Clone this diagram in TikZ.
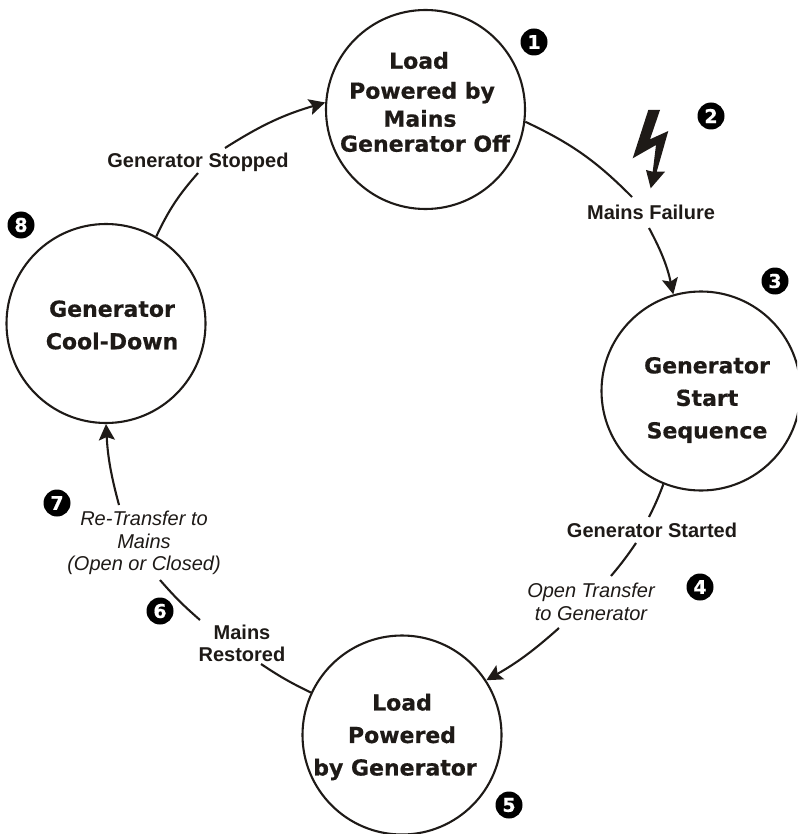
\documentclass[tikz,border=0pt]{standalone}
\usepackage{fontspec}
\setmainfont{Liberation Sans}
\newfontfamily\headfont[BoldFeatures={FakeBold=0.6}]{DejaVu Sans}
\usetikzlibrary{arrows.meta}
\definecolor{ink}{HTML}{1E1A17}
\tikzset{
  x=1pt,y=-1pt,
  state/.style={circle,draw=ink,line width=2.1pt,minimum size=199pt,inner sep=0pt},
  statetext/.style={align=center,text=ink,font=\headfont\bfseries\fontsize{22}{32.5}\selectfont,inner sep=0pt},
  evlabel/.style={align=center,text=ink,font=\bfseries\fontsize{20}{22}\selectfont,inner sep=0pt},
  itlabel/.style={align=center,text=ink,font=\itshape\fontsize{20}{22.5}\selectfont,inner sep=0pt},
  badge/.style={circle,fill=black,text=white,minimum size=27pt,inner sep=0pt,font=\headfont\bfseries\fontsize{19}{19}\selectfont},
  link/.style={draw=ink,line width=2.1pt},
  tip/.style={-{Stealth[length=16pt,width=16pt,inset=3pt]}},
}
\begin{document}
\begin{tikzpicture}
\useasboundingbox (0,0) rectangle (797,834);
\clip (0,0) rectangle (797,834);

\node[state] (n1) at (425.5,109.5) {};
\node[state] (n3) at (701,391) {};
\node[state] (n5) at (402,735) {};
\node[state] (n8) at (106,323.5) {};

\node[statetext] (t1) at (422,102) {\hspace*{-6pt}Load\\[-2.5pt]Powered by\hspace*{-4pt}\\[-4.5pt]\hspace*{-4pt}Mains\\[-7.5pt]Generator Off\hspace*{-6pt}};
\node[statetext] (t3) at (707,400) {Generator\\Start\\Sequence};
\node[statetext] (t5) at (402,737) {Load\\Powered\\by Generator\hspace*{14pt}};
\node[statetext] (t8) at (112,325) {Generator\\Cool-Down};

\node[evlabel] (lf) at (651,212) {Mains Failure};
\node[evlabel] (ls) at (652,530) {Generator Started};
\node[itlabel] (lo) at (591,602) {Open Transfer\\to Generator};
\node[evlabel] (lr) at (242,643) {Mains\\Restored};
\node[itlabel] (lm) at (144,543) {Re-Transfer to\\Mains\\(Open or Closed)};
\node[evlabel] (lg) at (198,162) {Generator Stopped};

\coordinate (a1) at (632,197);
\coordinate (a2) at (649,228);
\coordinate (b1) at (649,517);
\coordinate (b2) at (636,543);
\coordinate (b3) at (611,576);
\coordinate (b4) at (559,628);
\coordinate (c1) at (261,664);
\coordinate (c2) at (200,620);
\coordinate (c3) at (160,580);
\coordinate (c4) at (119,505);
\coordinate (d1) at (198,173);
\coordinate (d2) at (225,148);

\draw[link] (n1.-7) to[bend left=10] (a1);
\draw[link,tip] (a2) to[bend left=8] (n3.106);
\draw[link] (n3.-112) to[bend left=3] (b1);
\draw[link] (b2) to[bend left=3] (b3);
\draw[link,tip] (b4) to[bend left=6] (n5.33);
\draw[link] (n5.155) to[bend left=4] (c1);
\draw[link] (c2) to[bend left=4] (c3);
\draw[link,tip] (c4) to[bend left=6] (n8.-90);
\draw[link] (n8.60.5) to[bend left=8] (d1);
\draw[link,tip] (d2) to[bend left=8] (n1.176);

\fill[ink] (648.3,110) -- (660,110) -- (650,139.3) -- (668.3,131) -- (656.7,171.7) -- (665,171.7) -- (650.7,188.3) -- (646,170) -- (652.7,171.7) -- (656,145) -- (632.7,158.3) -- cycle;

\node[badge] (k1) at (534,42) {1};
\node[badge] (k2) at (711,116) {2};
\node[badge] (k3) at (775,281) {3};
\node[badge] (k4) at (700,587) {4};
\node[badge] (k5) at (509,805) {5};
\node[badge] (k6) at (160,611) {6};
\node[badge] (k7) at (57,503) {7};
\node[badge] (k8) at (21,225) {8};
\end{tikzpicture}
\end{document}
